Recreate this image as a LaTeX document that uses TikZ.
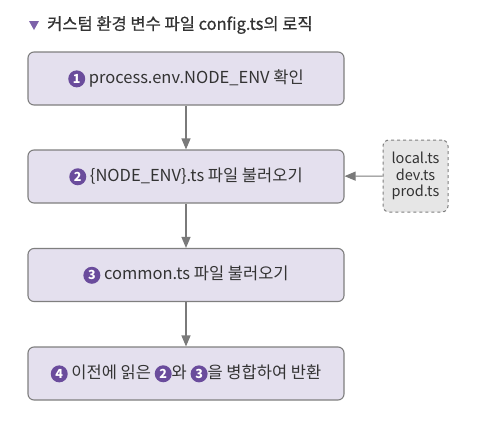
\documentclass[tikz,border=0pt]{standalone}
\usepackage{fontspec}
\setmainfont{Noto Sans CJK KR}
\newfontfamily\titlefont{Noto Sans CJK KR}[FakeBold=0.7]
\usetikzlibrary{arrows.meta}
\definecolor{boxfill}{HTML}{E4E0EE}
\definecolor{boxline}{HTML}{7F7F7F}
\definecolor{cpurple}{HTML}{6A4C9C}
\definecolor{tripurple}{HTML}{7D62AA}
\definecolor{sidefill}{HTML}{E6E6E6}
\definecolor{arrowgray}{HTML}{7A7A7A}
\definecolor{txt}{HTML}{333333}
\newcommand\cnum[1]{\tikz[baseline=(cc.base)]\node[circle,fill=cpurple,inner sep=0pt,minimum size=17pt,text=white,font=\bfseries\fontsize{12.5}{12.5}\selectfont](cc){#1};}
\begin{document}
\begin{tikzpicture}[x=1pt,y=-1pt,
  stepbox/.style={draw=boxline,line width=1.1pt,fill=boxfill,rounded corners=6pt,minimum width=316pt,minimum height=53pt,inner sep=0pt,text=txt,font=\fontsize{16.5}{19}\selectfont},
  sidebox/.style={draw=boxline,dashed,line width=1pt,fill=sidefill,rounded corners=6pt,minimum width=65pt,minimum height=72pt,inner sep=0pt,align=center,text=txt,font=\fontsize{14.5}{16.5}\selectfont},
  conn/.style={draw=arrowgray,line width=1.1pt,-{Triangle[width=9pt,length=11pt]}}]
\useasboundingbox (0,0) rectangle (499,421);
\fill[tripurple] (29,21) -- (39,21) -- (34,30) -- cycle;
\node[anchor=west,inner sep=0pt,text=txt,font=\titlefont\fontsize{16.5}{18}\selectfont] (title) at (47,25) {커스텀 환경 변수 파일 config.ts의 로직};
\node[stepbox] (s1) at (186,78.5) {\cnum{1} process.env.NODE\_ENV 확인};
\node[stepbox] (s2) at (186,176.5) {\cnum{2} \{NODE\_ENV\}.ts 파일 불러오기};
\node[stepbox] (s3) at (186,275) {\cnum{3} common.ts 파일 불러오기};
\node[stepbox] (s4) at (186,373.5) {\cnum{4} 이전에 읽은 \cnum{2}와 \cnum{3}을 병합하여 반환};
\node[sidebox] (side) at (415.5,176) {local.ts\\dev.ts\\prod.ts};
\draw[conn] (s1) -- (s2);
\draw[conn] (s2) -- (s3);
\draw[conn] (s3) -- (s4);
\draw[conn] (side) -- (s2);
\end{tikzpicture}
\end{document}
